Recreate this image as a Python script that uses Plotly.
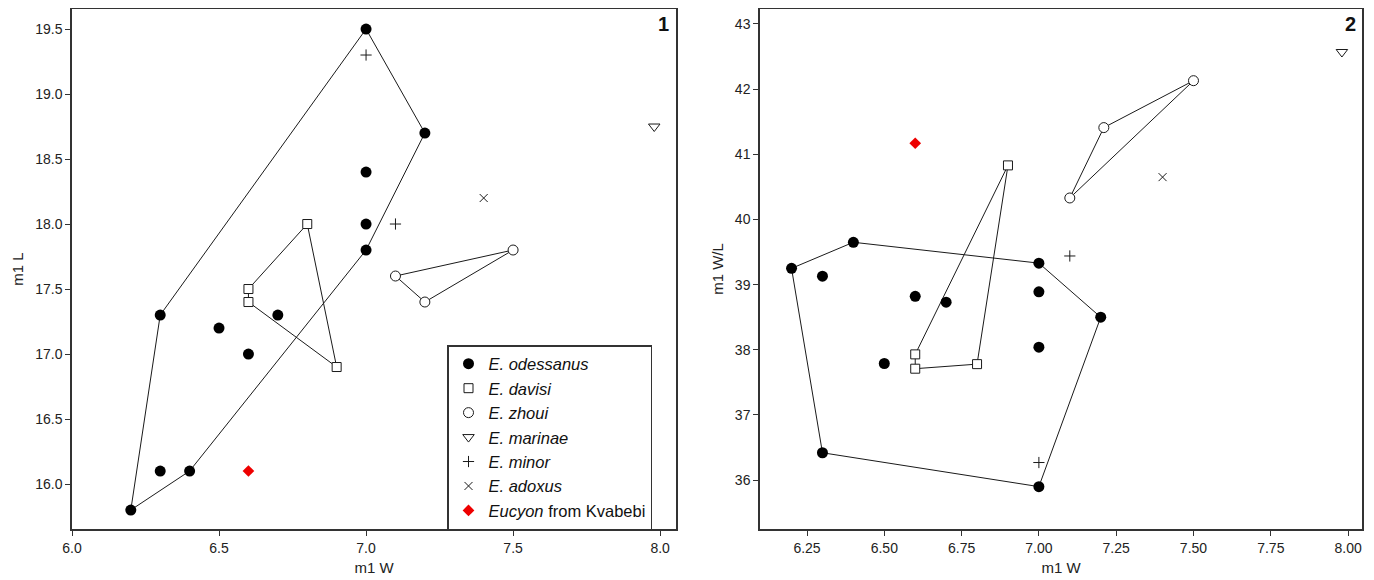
import plotly.graph_objects as go

# ---- data: panel 1 (m1 W vs m1 L) ----
od_w = [7.0, 7.2, 7.0, 7.0, 7.0, 6.3, 6.7, 6.5, 6.6, 6.3, 6.4, 6.2]
od_l = [19.5, 18.7, 18.4, 18.0, 17.8, 17.3, 17.3, 17.2, 17.0, 16.1, 16.1, 15.8]
od_hull1_w = [6.2, 6.3, 7.0, 7.2, 7.0, 6.4, 6.2]
od_hull1_l = [15.8, 17.3, 19.5, 18.7, 17.8, 16.1, 15.8]

dv_w = [6.6, 6.6, 6.8, 6.9]
dv_l = [17.5, 17.4, 18.0, 16.9]
dv_poly1_w = [6.6, 6.8, 6.9, 6.6, 6.6]
dv_poly1_l = [17.5, 18.0, 16.9, 17.4, 17.5]

zh_w = [7.1, 7.2, 7.5]
zh_l = [17.6, 17.4, 17.8]

ma_w = [7.98]
ma_l = [18.75]
mi_w = [7.0, 7.1]
mi_l = [19.3, 18.0]
ad_w = [7.4]
ad_l = [18.2]
kv_w = [6.6]
kv_l = [16.1]

# ---- data: panel 2 (m1 W vs m1 W/L) ----
od_wl = [35.90, 38.50, 38.04, 38.89, 39.33, 36.42, 38.73, 37.79, 38.82, 39.13, 39.65, 39.25]
od_hull2_w = [6.2, 6.4, 7.0, 7.2, 7.0, 6.3, 6.2]
od_hull2_wl = [39.25, 39.65, 39.33, 38.50, 35.90, 36.42, 39.25]

dv_wl = [37.71, 37.93, 37.78, 40.83]
dv_poly2_w = [6.6, 6.9, 6.8, 6.6, 6.6]
dv_poly2_wl = [37.93, 40.83, 37.78, 37.71, 37.93]

zh_wl = [40.33, 41.41, 42.13]
zh_w2 = [7.1, 7.21, 7.5]
ma_wl = [42.57]
mi_wl = [36.27, 39.44]
ad_wl = [40.65]
kv_wl = [41.17]

species = ["<i>E. odessanus</i>", "<i>E. davisi</i>", "<i>E. zhoui</i>",
           "<i>E. marinae</i>", "<i>E. minor</i>", "<i>E. adoxus</i>",
           "<i>Eucyon</i> from Kvabebi"]

# page body has an 8px margin: lay the figure out in page pixels minus that offset
OFF = 8
W, H = 1374 - OFF, 580 - OFF
def px(x):
    return (x - OFF) / W
def py(y):
    return 1 - (y - OFF) / H

fig = go.Figure()
INK = "#1a1a1a"
LINE = dict(color=INK, width=1)

def hull(x, y, xa, ya):
    fig.add_trace(go.Scatter(x=x, y=y, mode="lines", line=LINE, showlegend=False,
                             hoverinfo="skip", xaxis=xa, yaxis=ya))

def pts(x, y, sym, size, fill, lcol, lw, name, show, xa, ya):
    fig.add_trace(go.Scatter(
        x=x, y=y, mode="markers", name=name, showlegend=show, legendgroup=name,
        marker=dict(symbol=sym, size=size, color=fill, line=dict(color=lcol, width=lw)),
        xaxis=xa, yaxis=ya))

def panel(xa, ya, show, zw, od_y, dv_y, zh_y, ma_y, mi_y, ad_y, kv_y):
    pts(od_w, od_y, "circle", 11, "black", "black", 0, species[0], show, xa, ya)
    pts(dv_w, dv_y, "square", 9, "white", INK, 1, species[1], show, xa, ya)
    pts(zw, zh_y, "circle", 10, "white", INK, 1, species[2], show, xa, ya)
    pts(ma_w, ma_y, "triangle-down", 10, "white", INK, 1, species[3], show, xa, ya)
    pts(mi_w, mi_y, "cross-thin", 8, INK, INK, 1, species[4], show, xa, ya)
    pts(ad_w, ad_y, "x-thin", 8, INK, INK, 1, species[5], show, xa, ya)
    pts(kv_w, kv_y, "diamond", 9, "#ee0000", "#ee0000", 0, species[6], show, xa, ya)

# Panel 1
hull(od_hull1_w, od_hull1_l, "x", "y")
hull(dv_poly1_w, dv_poly1_l, "x", "y")
hull(zh_w + [zh_w[0]], zh_l + [zh_l[0]], "x", "y")
panel("x", "y", True, zh_w, od_l, dv_l, zh_l, ma_l, mi_l, ad_l, kv_l)

# Panel 2
hull(od_hull2_w, od_hull2_wl, "x2", "y2")
hull(dv_poly2_w, dv_poly2_wl, "x2", "y2")
hull(zh_w2 + [zh_w2[0]], zh_wl + [zh_wl[0]], "x2", "y2")
panel("x2", "y2", False, zh_w2, od_wl, dv_wl, zh_wl, ma_wl, mi_wl, ad_wl, kv_wl)

ax_common = dict(showline=True, linecolor="#333333", linewidth=1.5, mirror=True,
                 ticks="outside", ticklen=5, tickcolor="#333333", showgrid=False,
                 zeroline=False, automargin=False,
                 tickfont=dict(size=14, color="#222222"),
                 title_font=dict(size=15, color="#222222"))

fig.update_layout(
    width=W, height=H,
    margin=dict(l=0, r=0, t=0, b=0),
    paper_bgcolor="white", plot_bgcolor="white",
    font=dict(family="Liberation Sans, Arial, sans-serif", color="#222222"),
    xaxis=dict(domain=[px(72), px(676)], range=[6.0, 8.054], tickvals=[6.0, 6.5, 7.0, 7.5, 8.0],
               ticktext=["6.0", "6.5", "7.0", "7.5", "8.0"], title=dict(text="m1 W", standoff=8),
               anchor="y", **ax_common),
    yaxis=dict(domain=[py(529), py(9)], range=[15.654, 19.654],
               tickvals=[16.0, 16.5, 17.0, 17.5, 18.0, 18.5, 19.0, 19.5],
               ticktext=["16.0", "16.5", "17.0", "17.5", "18.0", "18.5", "19.0", "19.5"],
               title=dict(text="m1 L", standoff=8), anchor="x", **ax_common),
    xaxis2=dict(domain=[px(760), px(1362)], range=[6.098, 8.045],
                tickvals=[6.25, 6.5, 6.75, 7.0, 7.25, 7.5, 7.75, 8.0],
                ticktext=["6.25", "6.50", "6.75", "7.00", "7.25", "7.50", "7.75", "8.00"],
                title=dict(text="m1 W", standoff=8), anchor="y2", **ax_common),
    yaxis2=dict(domain=[py(529), py(9)], range=[35.25, 43.23],
                tickvals=[36, 37, 38, 39, 40, 41, 42, 43],
                title=dict(text="m1 W/L", standoff=8), anchor="x2", **ax_common),
    legend=dict(x=px(447), y=py(345), xanchor="left", yanchor="top",
                bordercolor="#333333", borderwidth=1.5, bgcolor="white",
                font=dict(size=16.5, color="#111111"), tracegroupgap=0,
                itemwidth=30),
    annotations=[
        dict(text="<b>1</b>", x=px(671), y=py(11), xref="paper", yref="paper",
             xanchor="right", yanchor="top", showarrow=False, font=dict(size=20, color="#111111")),
        dict(text="<b>2</b>", x=px(1358), y=py(11), xref="paper", yref="paper",
             xanchor="right", yanchor="top", showarrow=False, font=dict(size=20, color="#111111")),
    ],
)

fig.write_html("out.html")
